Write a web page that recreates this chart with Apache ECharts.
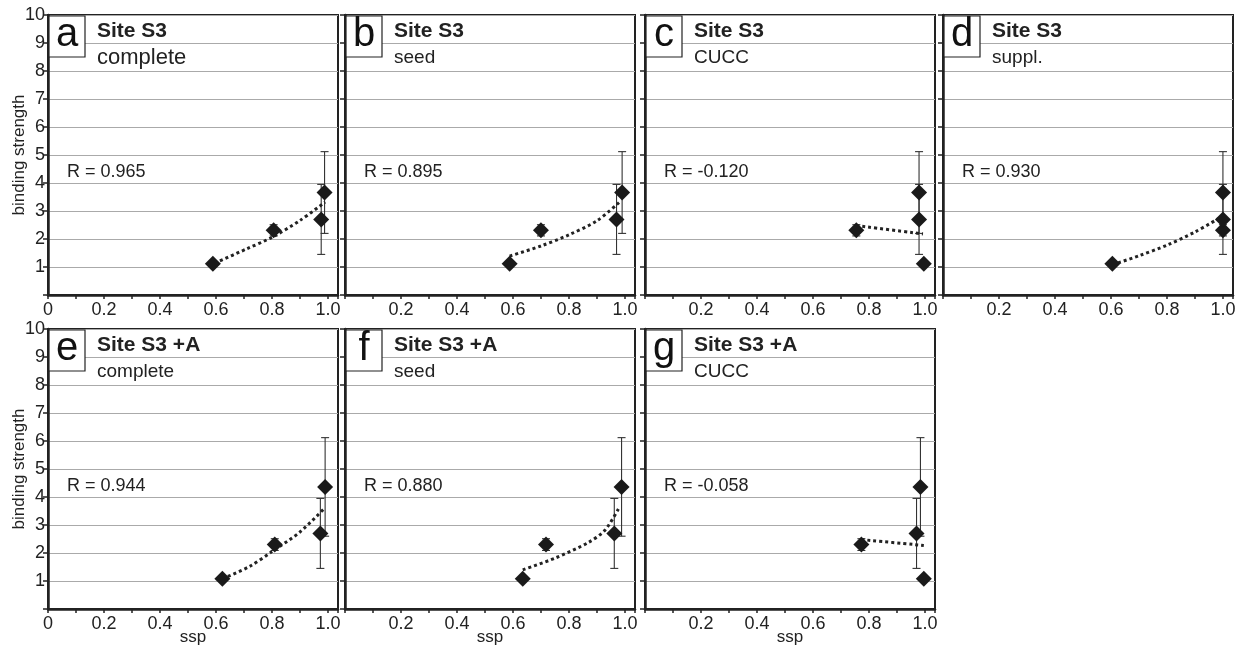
<!DOCTYPE html>
<html>
<head>
<meta charset="utf-8">
<title>binding strength vs ssp</title>
<script src="https://cdn.jsdelivr.net/npm/echarts@6/dist/echarts.min.js"></script>
<style>
  html, body { margin: 0; padding: 0; background: #fff; }
  #chart { width: 1243px; height: 648px; }
</style>
</head>
<body>
<div id="chart"></div>
<script>
// panel texts
const panelLetters = ['a', 'b', 'c', 'd', 'e', 'f', 'g'];
const siteNames = ['Site S3', 'Site S3', 'Site S3', 'Site S3', 'Site S3 +A', 'Site S3 +A', 'Site S3 +A'];
const subsets = ['complete', 'seed', 'CUCC', 'suppl.', 'complete', 'seed', 'CUCC'];
const rValues = ['0.965', '0.895', '-0.120', '0.930', '0.944', '0.880', '-0.058'];

// binding strength of the four points (same in every panel of a row) and error
const strengthS3 = [1.12, 2.31, 2.70, 3.66];
const errorS3 = [0.04, 0.20, 1.25, 1.46];
const strengthS3A = [1.08, 2.30, 2.70, 4.36];
const errorS3A = [0.04, 0.21, 1.25, 1.76];

// ssp of the same four points, per panel
const sspA = [0.589, 0.806, 0.976, 0.988];
const sspB = [0.588, 0.700, 0.970, 0.990];
const sspC = [0.996, 0.755, 0.979, 0.979];
const sspD = [0.605, 1.000, 1.000, 1.000];
const sspE = [0.623, 0.810, 0.973, 0.990];
const sspF = [0.635, 0.718, 0.962, 0.988];
const sspG = [0.996, 0.773, 0.970, 0.984];

// dotted trend curves
const trendA = [[0.595, 1.13], [0.708, 1.64], [0.80, 2.06], [0.90, 2.66], [0.99, 3.32]];
const trendB = [[0.588, 1.39], [0.70, 1.75], [0.80, 2.15], [0.90, 2.65], [0.982, 3.33]];
const trendC = [[0.755, 2.48], [0.993, 2.18]];
const trendD = [[0.605, 1.08], [0.70, 1.40], [0.80, 1.78], [0.90, 2.25], [0.996, 2.80]];
const trendE = [[0.623, 1.08], [0.72, 1.52], [0.80, 2.05], [0.90, 2.75], [0.988, 3.60]];
const trendF = [[0.635, 1.40], [0.751, 1.82], [0.87, 2.38], [0.93, 2.83], [0.982, 3.67]];
const trendG = [[0.773, 2.48], [0.996, 2.27]];

const sspPanels = [sspA, sspB, sspC, sspD, sspE, sspF, sspG];
const trendPanels = [trendA, trendB, trendC, trendD, trendE, trendF, trendG];

const font = "'Liberation Sans', Arial, sans-serif";
const ink = '#222';
const W = 290, H = 280;
const layout = [
    { left: 48, top: 15 }, { left: 345, top: 15 }, { left: 645, top: 15 }, { left: 943, top: 15 },
    { left: 48, top: 329 }, { left: 345, top: 329 }, { left: 645, top: 329 }
];

function xLabel(showZero) {
    return function (v) {
        const r = Math.round(v * 10);
        if (Math.abs(v * 10 - r) > 0.01 || r % 2 !== 0) return '';
        if (r === 0) return showZero ? '0' : '';
        return (r / 10).toFixed(1);
    };
}

function errorBar(params, api) {
    const x = api.value(0);
    const lo = api.coord([x, api.value(1)]);
    const hi = api.coord([x, api.value(2)]);
    const cap = 4;
    const style = { stroke: '#333', lineWidth: 1.1 };
    return {
        type: 'group',
        children: [
            { type: 'line', shape: { x1: lo[0], y1: lo[1], x2: hi[0], y2: hi[1] }, style: style },
            { type: 'line', shape: { x1: lo[0] - cap, y1: lo[1], x2: lo[0] + cap, y2: lo[1] }, style: style },
            { type: 'line', shape: { x1: hi[0] - cap, y1: hi[1], x2: hi[0] + cap, y2: hi[1] }, style: style }
        ]
    };
}

const grids = [], xAxes = [], yAxes = [], series = [], graphics = [];

layout.forEach(function (p, i) {
    const bottomRow = i >= 4;
    const firstCol = i === 0 || i === 4;
    const strength = bottomRow ? strengthS3A : strengthS3;
    const error = bottomRow ? errorS3A : errorS3;
    const ssp = sspPanels[i];

    grids.push({
        left: p.left, top: p.top, width: W, height: H,
        show: true, borderColor: ink, borderWidth: 2, backgroundColor: '#fff',
        containLabel: false, outerBoundsMode: 'none'
    });

    xAxes.push({
        gridIndex: i, type: 'value', min: 0, max: 1.036, interval: 0.1,
        axisLine: { show: true, onZero: false, lineStyle: { color: ink, width: 2.5 } },
        axisTick: { show: true, inside: false, length: 4, lineStyle: { color: ink, width: 1.5 } },
        axisLabel: { formatter: xLabel(firstCol), fontSize: 18, color: ink, margin: 6, fontFamily: font },
        splitLine: { show: false },
        name: bottomRow ? 'ssp' : '', nameLocation: 'middle', nameGap: 20, nameMoveOverlap: false,
        nameTextStyle: { fontSize: 17, color: ink, fontFamily: font }
    });

    yAxes.push({
        gridIndex: i, type: 'value', min: 0, max: 10, interval: 1,
        axisLine: { show: true, onZero: false, lineStyle: { color: ink, width: 2.5 } },
        axisTick: { show: true, inside: false, length: 5, lineStyle: { color: ink, width: 1.5 } },
        axisLabel: {
            show: firstCol, fontSize: 18, color: ink, margin: 3, fontFamily: font,
            formatter: function (v) { return v === 0 ? '' : String(v); }
        },
        splitLine: { show: true, lineStyle: { color: '#aaa', width: 1 } },
        name: firstCol ? 'binding strength' : '', nameLocation: 'middle', nameGap: 20, nameRotate: 90,
        nameMoveOverlap: false,
        nameTextStyle: { fontSize: 17, color: ink, fontFamily: font }
    });

    series.push({
        type: 'custom', xAxisIndex: i, yAxisIndex: i, z: 2, silent: true,
        renderItem: errorBar,
        data: ssp.map(function (x, j) { return [x, strength[j] - error[j], strength[j] + error[j]]; })
    });
    series.push({
        type: 'line', xAxisIndex: i, yAxisIndex: i, z: 3, silent: true,
        showSymbol: false, smooth: 0.3,
        lineStyle: { color: ink, width: 3, type: [3, 3], cap: 'butt', opacity: 1 },
        data: trendPanels[i]
    });
    series.push({
        type: 'scatter', xAxisIndex: i, yAxisIndex: i, z: 4,
        symbol: 'diamond', symbolSize: [16, 16],
        itemStyle: { color: '#1a1a1a', opacity: 1 },
        data: ssp.map(function (x, j) { return [x, strength[j]]; })
    });

    graphics.push({
        type: 'rect', z: 10,
        shape: { x: p.left + 1, y: p.top + 1, width: 36, height: 41 },
        style: { fill: '#fff', stroke: ink, lineWidth: 1.2 }
    });
    graphics.push({
        type: 'text', z: 11, x: p.left + 19, y: p.top + 20,
        style: { text: panelLetters[i], font: '40px ' + font, fill: '#111', textAlign: 'center', textVerticalAlign: 'middle' }
    });
    graphics.push({
        type: 'text', z: 11, x: p.left + 49, y: p.top + 16,
        style: { text: siteNames[i], font: 'bold 21px ' + font, fill: ink, textVerticalAlign: 'middle' }
    });
    graphics.push({
        type: 'text', z: 11, x: p.left + 49, y: p.top + 43,
        style: { text: subsets[i], font: (i === 0 ? '22px ' : '19px ') + font, fill: ink, textVerticalAlign: 'middle' }
    });
    graphics.push({
        type: 'text', z: 11, x: p.left + 19, y: p.top + 157,
        style: { text: 'R = ' + rValues[i], font: '18px ' + font, fill: ink, textVerticalAlign: 'middle' }
    });
});

const chart = echarts.init(document.getElementById('chart'));
chart.setOption({
    animation: false,
    backgroundColor: '#fff',
    grid: grids,
    xAxis: xAxes,
    yAxis: yAxes,
    series: series,
    graphic: graphics
});
</script>
</body>
</html>
